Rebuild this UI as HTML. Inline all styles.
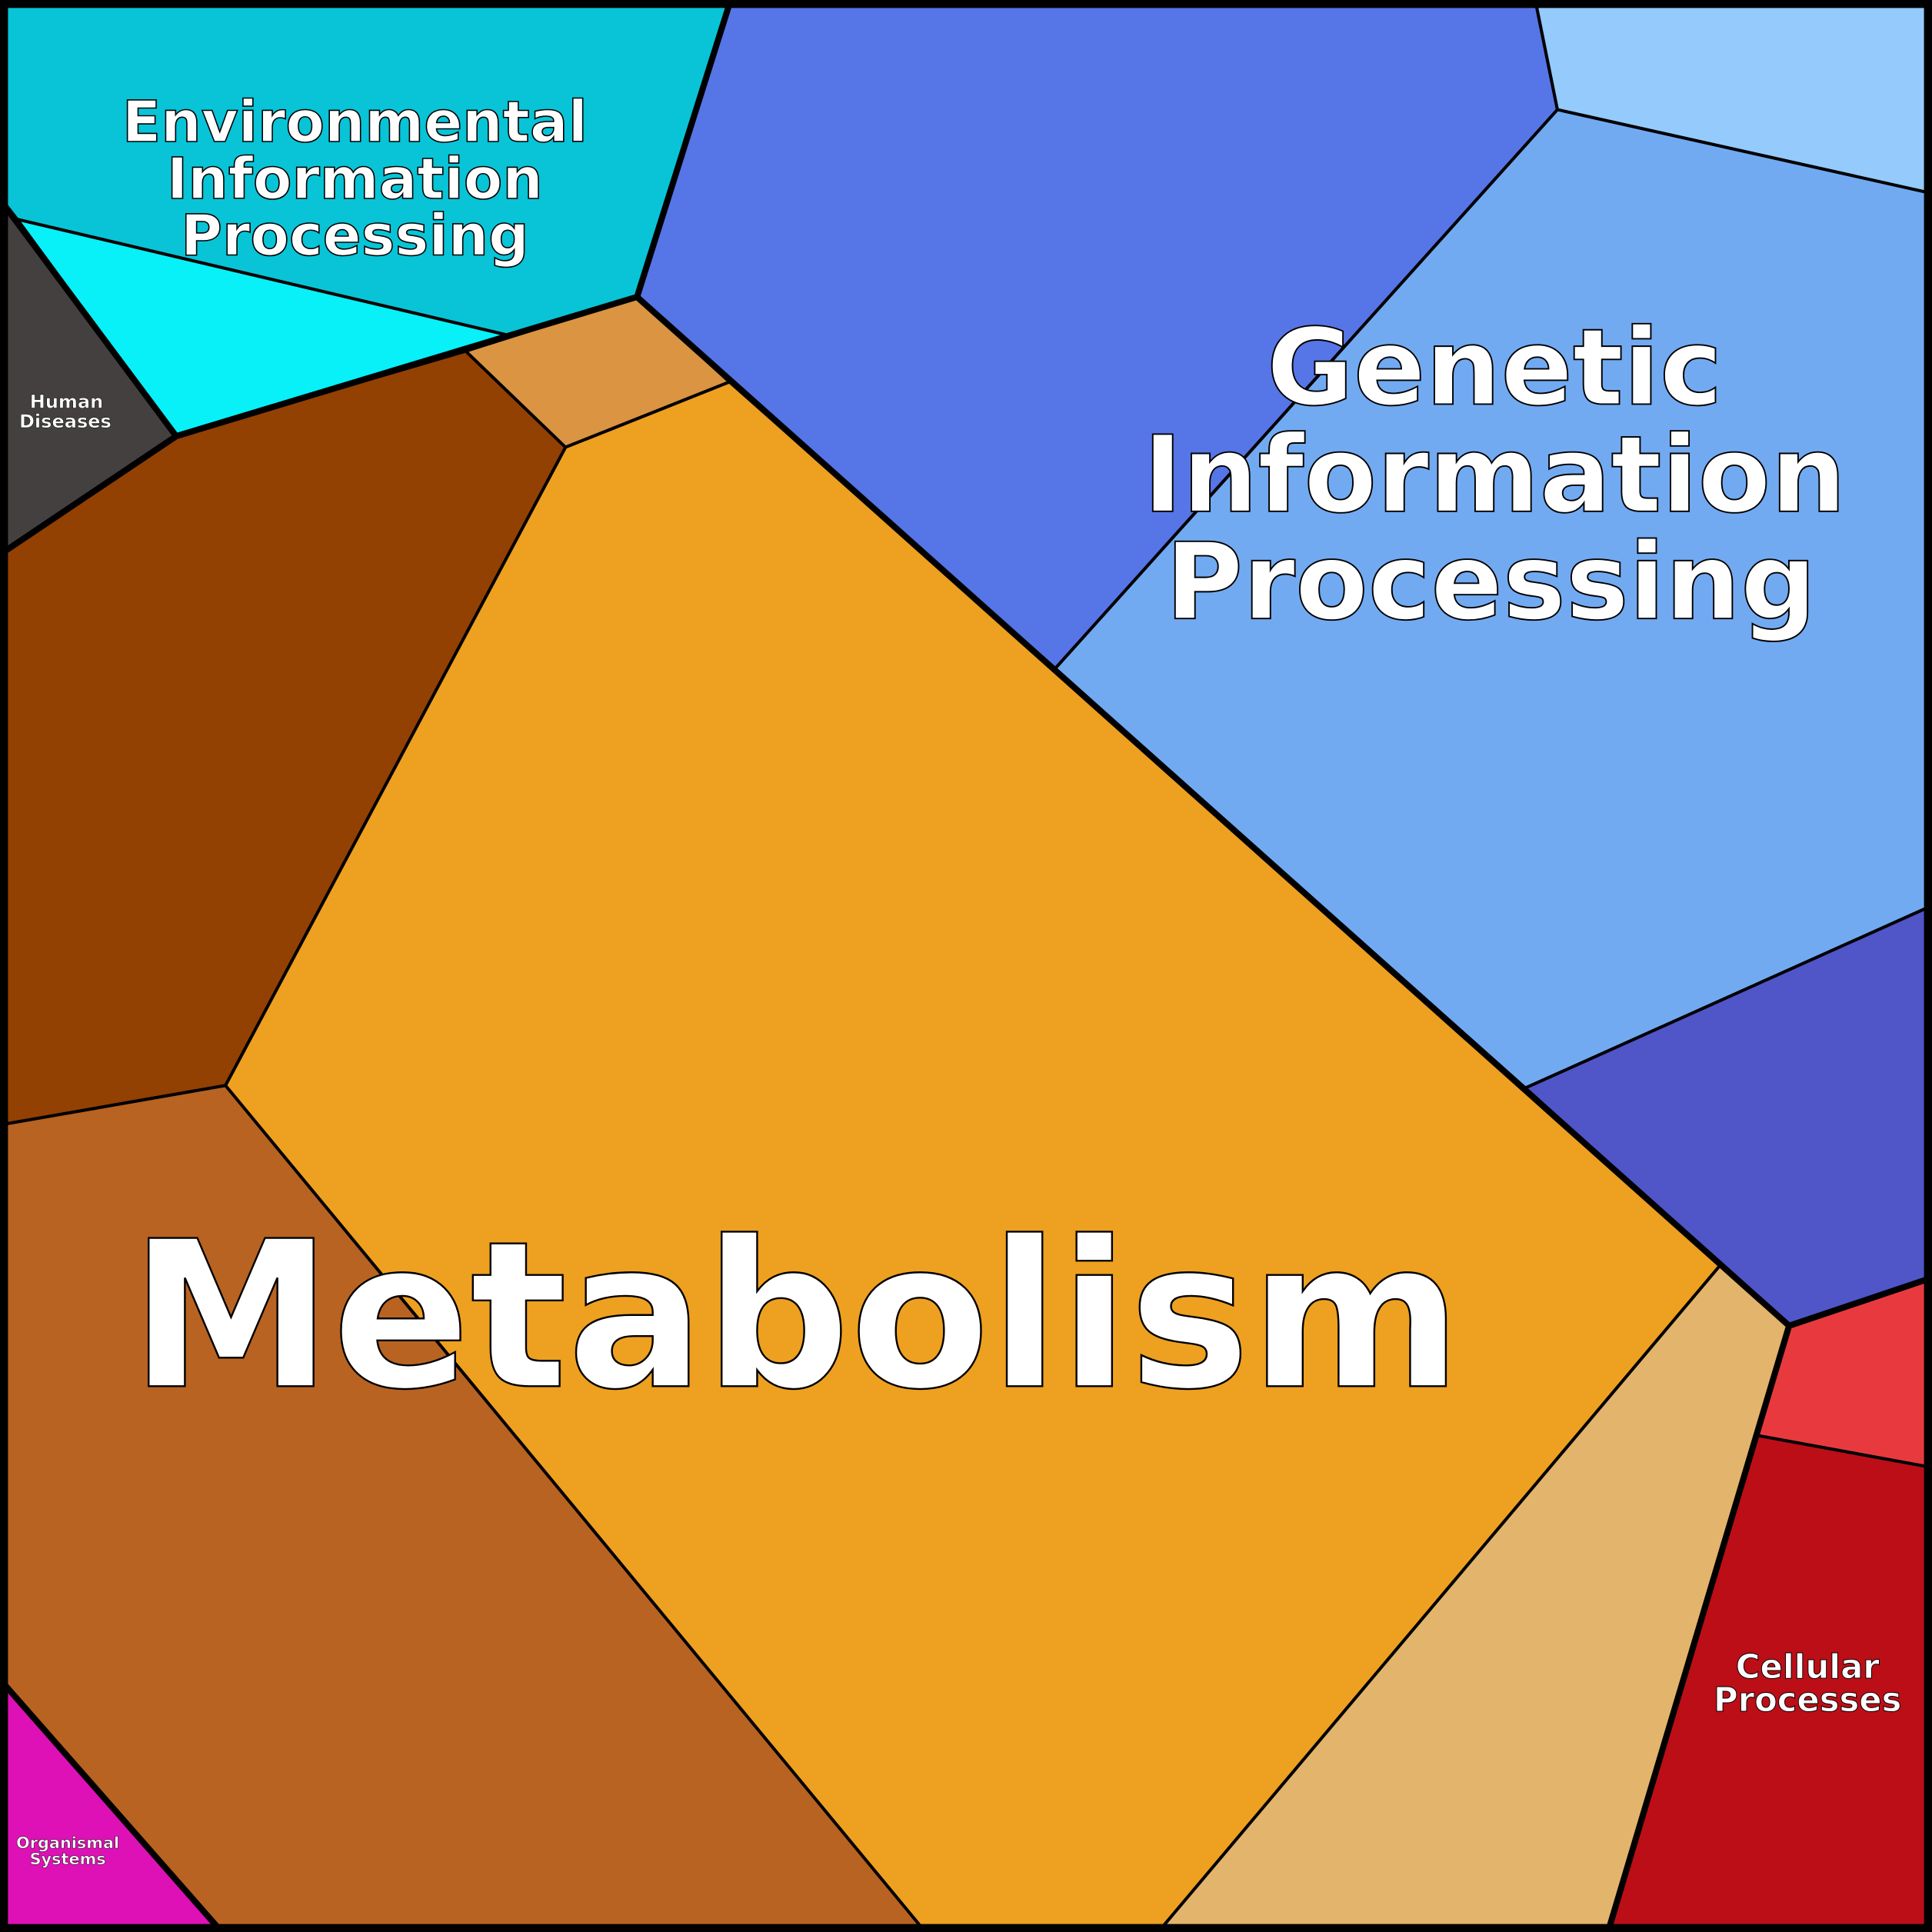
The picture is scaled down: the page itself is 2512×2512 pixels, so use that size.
<!DOCTYPE html>
<html><head><meta charset="utf-8"><style>
html,body{margin:0;padding:0;background:#000;}
svg{display:block;}
text{font-family:"DejaVu Sans","Liberation Sans",sans-serif;font-weight:bold;fill:#fff;stroke:#000;text-anchor:middle;}
</style></head><body>
<svg width="2512" height="2512" viewBox="0 0 1568 1568" xmlns="http://www.w3.org/2000/svg">
<g stroke="#000" stroke-width="2.5" stroke-linejoin="round">
<polygon fill="#08C4D6" points="0,0 593,0 517,241 412,272 14,178 0,160"/>
<polygon fill="#08F0F8" points="14,178 412,272 143,354"/>
<polygon fill="#444040" points="0,162 14,178 143,354 0,450"/>
<polygon fill="#934003" points="0,450 143,354 378,285 459,363 183,881 0,913"/>
<polygon fill="#DB9441" points="378,285 517,241 592,310 459,363"/>
<polygon fill="#EEA020" points="459,363 592,310 856,543 1238,883 1396,1027 940,1568 751,1568 183,881"/>
<polygon fill="#B86321" points="0,913 183,881 751,1568 180,1568 0,1363"/>
<polygon fill="#DD11B5" points="0,1363 180,1568 0,1568"/>
<polygon fill="#E3B46B" points="1396,1027 1452,1076 1305,1568 940,1568"/>
<polygon fill="#5675E6" points="593,0 1246,0 1264,89 856,543 517,241"/>
<polygon fill="#94CAFC" points="1246,0 1568,0 1568,157 1264,89"/>
<polygon fill="#72AAF2" points="1264,89 1568,157 1568,735 1238,883 856,543"/>
<polygon fill="#5055C8" points="1238,883 1568,735 1568,1037 1452,1076"/>
<polygon fill="#E83A3E" points="1452,1076 1568,1037 1568,1191 1426,1165"/>
<polygon fill="#BC0E17" points="1426,1165 1568,1191 1568,1568 1305,1568"/>
</g>
<g stroke="#000" stroke-width="5" fill="none" stroke-linejoin="round">
<polyline points="593,0 517,241 143,354 0,450"/>
<polyline points="0,162 143,354"/>
<polyline points="517,241 1452,1076 1568,1037"/>
<polyline points="1452,1076 1305,1568"/>
<polyline points="0,1363 180,1568"/>
<rect x="2.5" y="2.5" width="1563" height="1563" stroke-width="8"/>
</g>
<text x="288" y="115" font-size="46" stroke-width="1">Environmental</text>
<text x="288" y="161" font-size="46" stroke-width="1">Information</text>
<text x="288" y="207" font-size="46" stroke-width="1">Processing</text>
<text x="1213" y="328" font-size="86" stroke-width="1.2">Genetic</text>
<text x="1213" y="415" font-size="86" stroke-width="1.2">Information</text>
<text x="1210" y="502" font-size="86" stroke-width="1.2">Processing</text>
<text x="646" y="1125" font-size="165" stroke-width="1.5">Metabolism</text>
<text x="54" y="331" font-size="15" stroke-width="0.3">Human</text>
<text x="53" y="347" font-size="15" stroke-width="0.3">Diseases</text>
<text x="1467" y="1362" font-size="27" stroke-width="0.6">Cellular</text>
<text x="1467" y="1389" font-size="27" stroke-width="0.6">Processes</text>
<text x="55" y="1500" font-size="13" stroke-width="0.3">Organismal</text>
<text x="55" y="1513" font-size="13" stroke-width="0.3">Systems</text>
</svg>
</body></html>
